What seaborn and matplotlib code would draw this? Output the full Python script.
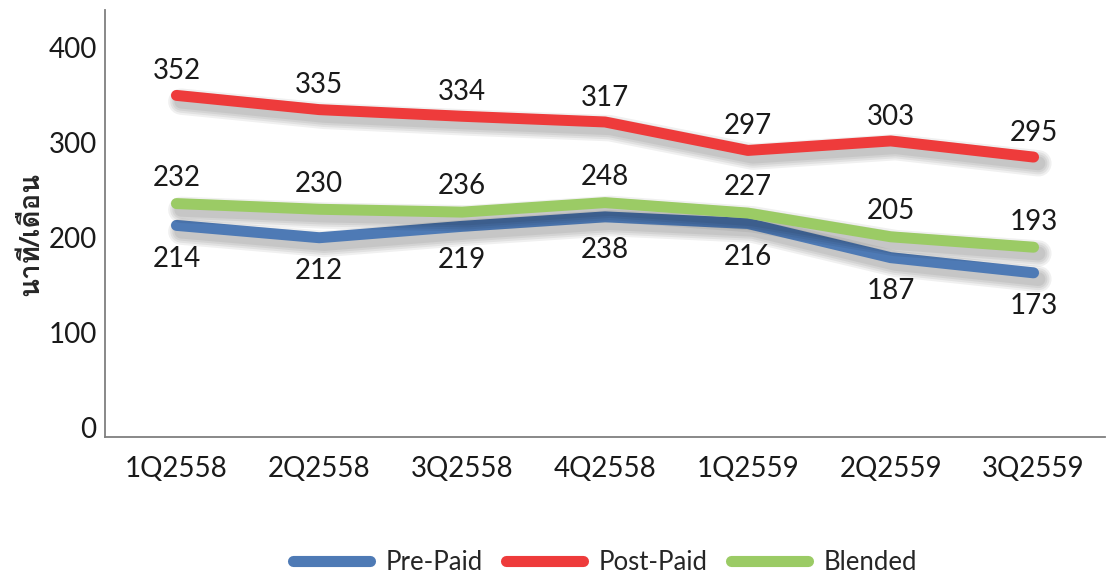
import pandas as pd
import matplotlib.pyplot as plt
import matplotlib.patheffects as pe
import matplotlib.transforms as mtransforms
from matplotlib import font_manager
from matplotlib.ft2font import FT2Font
from matplotlib.lines import Line2D
import seaborn as sns

quarters = ["1Q2558", "2Q2558", "3Q2558", "4Q2558", "1Q2559", "2Q2559", "3Q2559"]
series_names = ["Pre-Paid", "Post-Paid", "Blended"]

# line heights as drawn in the picture
prepaid_vals = [223, 210, 222, 232, 225, 189, 173]
postpaid_vals = [360, 345, 338, 332, 302, 312, 295]
blended_vals = [246, 240, 237, 247, 236, 211, 200]

# printed data labels
prepaid_labels = [214, 212, 219, 238, 216, 187, 173]
postpaid_labels = [352, 335, 334, 317, 297, 303, 295]
blended_labels = [232, 230, 236, 248, 227, 205, 193]

colors = {"Pre-Paid": "#4E7AB5", "Post-Paid": "#EE3B3B", "Blended": "#9BCB65"}

sns.set_style("white")
plt.rcParams["font.family"] = ["Lato", "DejaVu Sans"]

# find an installed font with Thai glyphs for the axis title
thai_family = None
for f in font_manager.fontManager.ttflist:
    try:
        if 0x0E19 in FT2Font(f.fname).get_charmap():
            thai_family = f.name
            break
    except Exception:
        pass
ylabel_family = [thai_family, "DejaVu Sans"] if thai_family else ["DejaVu Sans"]

df = pd.DataFrame({
    "quarter": quarters * 3,
    "value": prepaid_vals + postpaid_vals + blended_vals,
    "series": [s for s in series_names for _ in quarters],
})

fig = plt.figure(figsize=(11.06, 5.77), dpi=100)
ax = fig.add_axes([105 / 1106, 1 - 437 / 577, 1000 / 1106, 427 / 577])

sns.lineplot(data=df, x="quarter", y="value", hue="series", hue_order=series_names,
             palette=colors, linewidth=7.9, sort=False, legend=False, ax=ax,
             solid_capstyle="round", solid_joinstyle="round")

shadow = [pe.SimpleLineShadow(offset=(3.5, -4.5), shadow_color="black", alpha=0.06, linewidth=w)
          for w in (19, 16, 13, 10)] + [pe.Normal()]
for line in ax.lines:
    line.set_path_effects(shadow)

# data labels
label_sets = [(prepaid_vals, prepaid_labels, -24), (postpaid_vals, postpaid_labels, 17.5),
              (blended_vals, blended_labels, 18.5)]
for vals, labs, dy in label_sets:
    for i, (v, lab) in enumerate(zip(vals, labs)):
        ax.annotate(str(lab), (i, v), xytext=(0, dy), textcoords="offset points",
                    ha="center", va="center", fontsize=20, color="#1a1a1a")

ax.set_xlim(-0.5, 6.5)
ax.set_ylim(0, 450)
ax.set_yticks([0, 100, 200, 300, 400])
ax.set_xlabel("")
ax.set_ylabel("")
ax.tick_params(axis="both", length=0, labelsize=20, labelcolor="#1a1a1a")
ax.tick_params(axis="y", pad=6)
ax.tick_params(axis="x", pad=14)
shift = mtransforms.ScaledTranslation(0, 7 / 72, fig.dpi_scale_trans)
for lab in ax.get_yticklabels():
    lab.set_transform(lab.get_transform() + shift)

for side in ["top", "right"]:
    ax.spines[side].set_visible(False)
for side in ["left", "bottom"]:
    ax.spines[side].set_color("#7f7f7f")
    ax.spines[side].set_linewidth(1.3)

fig.text(31 / 1106, 1 - 234 / 577, "นาที/เดือน", rotation=90, ha="center", va="center",
         fontsize=20, fontweight="bold", family=ylabel_family)

handles = [Line2D([0], [0], color=colors[s], lw=8, solid_capstyle="round") for s in series_names]
fig.legend(handles, series_names, loc="center", bbox_to_anchor=(605 / 1106, 1 - 562 / 577),
           ncol=3, frameon=False, fontsize=18.5, handlelength=3.0, handletextpad=0.6,
           columnspacing=0.9)

fig.savefig("out.png", dpi=100)
